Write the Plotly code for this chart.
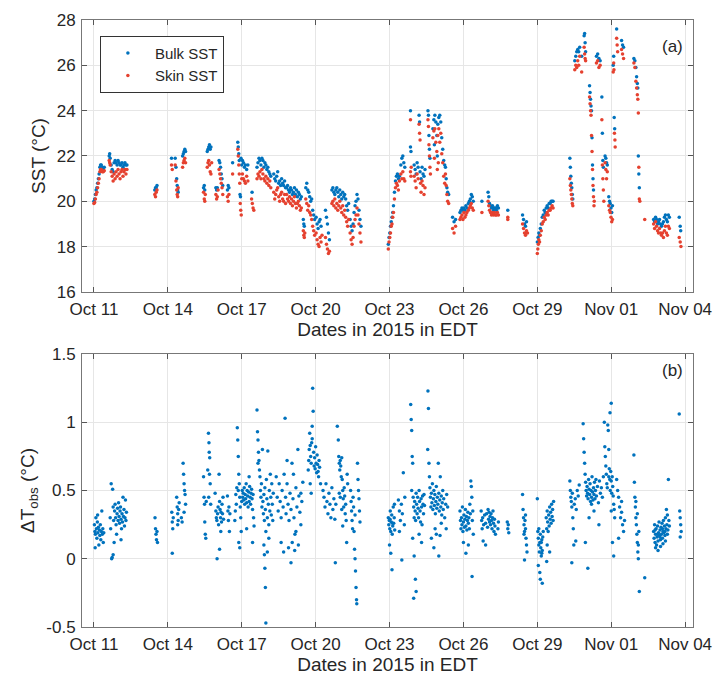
import pandas as pd
import plotly.graph_objects as go

# ---------------- data (day offsets from 2015-10-11 00:00 EDT, values) -------------
bulk_points = [
    (0.00,20.0),(0.03,20.1),(0.06,20.3),(0.09,20.5),(0.12,20.6),(0.15,20.8),(0.18,21.0),(0.21,21.2),(0.24,21.5),(0.27,21.6),(0.30,21.6),(0.34,21.5),(0.38,21.4),(0.42,21.5),
    (0.62,22.0),(0.64,22.1),(0.66,21.9),(0.70,21.6),(0.74,21.4),(0.78,21.3),(0.82,21.7),(0.86,21.8),(0.90,21.7),(0.94,21.6),(0.98,21.8),(1.02,21.7),(1.06,21.6),(1.10,21.6),(1.14,21.7),(1.18,21.5),(1.22,21.6),(1.26,21.7),(1.30,21.6),(1.34,21.6),
    (2.47,20.5),(2.50,20.6),(2.53,20.6),(2.56,20.7),
    (3.15,21.9),(3.30,21.9),(3.33,21.5),(3.36,21.0),(3.38,20.7),(3.40,20.5),(3.42,20.4),(3.60,22.0),(3.63,22.1),(3.66,22.2),(3.69,22.3),(3.72,22.2),
    (4.45,20.6),(4.48,20.7),(4.50,20.5),(4.60,22.2),(4.63,22.3),(4.66,22.4),(4.69,22.5),(4.72,22.3),(4.75,22.4),
    (4.95,20.6),(4.98,20.5),(5.01,20.6),(5.08,21.8),(5.11,21.7),(5.14,21.5),(5.17,21.2),(5.20,21.0),(5.23,20.7),
    (5.42,20.5),(5.45,20.7),(5.48,20.6),(5.63,21.7),
    (5.84,22.6),(5.86,22.4),(5.88,22.1),(5.90,21.8),(5.93,20.3),(5.95,20.2),(5.97,21.9),(6.00,21.6),
    (6.03,21.8),(6.07,21.7),(6.11,21.5),(6.15,21.6),(6.20,21.4),(6.25,21.6),(6.42,20.4),
    (6.62,21.5),(6.66,21.7),(6.70,21.9),(6.74,21.8),(6.78,21.6),(6.82,21.9),(6.86,21.8),(6.90,21.5),(6.94,21.7),(6.98,21.6),(7.02,21.4),(7.06,21.5),(7.10,21.3),(7.14,21.2),(7.18,21.1),
    (7.30,21.2),(7.34,21.0),(7.38,20.9),(7.42,21.1),(7.46,21.3),(7.50,20.8),(7.54,20.9),(7.58,20.7),(7.62,21.0),(7.66,20.8),(7.70,20.7),(7.74,20.9),(7.78,20.6),
    (7.82,20.6),(7.86,20.7),(7.90,20.5),(7.94,20.4),(7.98,20.6),(8.02,20.5),(8.06,20.3),(8.10,20.4),(8.14,20.6),(8.18,20.3),(8.22,20.5),(8.26,20.2),(8.30,20.4),(8.34,20.3),(8.38,20.1),(8.42,20.2),
    (8.50,19.2),(8.52,19.0),(8.54,18.9),(8.60,20.6),(8.64,20.8),(8.68,20.5),(8.72,20.4),(8.76,20.2),(8.80,20.0),(8.84,20.1),(8.88,19.6),(8.92,19.4),(8.96,19.2),
    (9.02,19.3),(9.06,19.0),(9.10,18.8),(9.14,19.1),(9.18,19.2),(9.22,18.9),
    (9.40,19.6),(9.44,19.3),(9.48,19.0),(9.52,18.6),(9.56,18.3),
    (9.66,20.5),(9.70,20.6),(9.74,20.4),(9.78,20.3),(9.82,20.5),(9.86,20.6),(9.90,20.4),(9.94,20.2),(9.98,20.5),(10.02,20.3),(10.06,20.1),(10.10,20.4),(10.14,20.2),(10.18,20.3),(10.22,20.1),(10.26,19.8),(10.30,19.6),(10.34,19.9),
    (10.40,19.2),(10.44,18.9),(10.48,18.7),(10.52,19.0),(10.56,19.5),(10.60,19.8),(10.64,20.0),(10.68,20.3),(10.72,20.1),(10.76,19.6),(10.80,19.2),(10.84,18.9),
    (11.95,18.1),(11.98,18.4),(12.01,18.6),(12.04,18.9),(12.07,19.1),(12.10,19.3),(12.13,19.5),(12.16,19.8),(12.20,20.4),(12.24,20.9),(12.28,21.1),(12.32,21.2),(12.36,21.0),(12.40,21.1),(12.46,21.6),(12.50,21.9),(12.54,22.0),(12.58,21.7),(12.62,21.5),
    (12.85,24.0),(12.85,22.4),(12.87,22.2),
    (13.00,21.6),(13.04,21.4),(13.08,21.2),(13.12,21.7),(13.16,21.5),(13.20,23.8),(13.22,23.5),(13.24,21.3),(13.28,21.0),(13.32,21.5),(13.36,21.2),(13.40,21.1),(13.44,21.4),
    (13.56,24.0),(13.58,23.8),(13.60,22.9),(13.62,22.3),(13.64,21.9),
    (13.76,23.2),(13.80,23.6),(13.84,23.8),(13.88,23.5),(13.92,22.9),(13.96,23.4),(14.00,23.7),(14.04,23.8),(14.08,23.5),(14.12,22.8),(14.16,22.3),(14.20,21.8),(14.24,21.6),(13.82,22.5),(13.94,22.0),
    (14.27,21.5),(14.30,21.0),(14.33,20.6),(14.36,20.4),(14.40,20.3),
    (14.56,19.3),(14.62,19.1),(14.68,19.2),
    (14.86,19.5),(14.90,19.6),(14.94,19.7),(14.98,19.6),(15.02,19.7),(15.06,19.6),(15.10,19.8),(15.14,19.7),(15.20,19.9),(15.24,20.0),(15.28,20.1),(15.32,20.3),(15.36,20.2),(15.40,20.0),
    (15.75,20.0),
    (16.00,20.4),(16.03,20.2),(16.06,19.9),(16.10,19.8),(16.14,19.7),(16.18,19.8),(16.22,19.6),(16.26,19.7),(16.30,19.7),(16.34,19.6),(16.38,19.8),(16.42,19.7),
    (16.80,19.6),
    (17.40,19.4),(17.44,19.2),(17.48,19.0),(17.52,18.9),(17.56,19.1),
    (18.00,18.2),(18.03,18.4),(18.06,18.6),(18.09,18.5),(18.12,18.8),(18.16,19.0),(18.20,19.3),(18.24,19.4),(18.28,19.6),(18.32,19.5),(18.36,19.7),(18.40,19.8),(18.44,19.7),(18.48,19.9),(18.52,19.9),(18.56,20.0),(18.60,20.0),(18.64,20.0),
    (19.32,21.9),(19.34,21.5),(19.36,21.1),(19.38,20.8),(19.40,20.6),(19.42,20.3),(19.44,20.1),
    (19.52,26.2),(19.56,26.4),(19.60,26.6),(19.64,26.7),(19.68,26.6),(19.72,26.8),(19.80,26.4),(19.90,27.3),(19.92,27.4),(19.94,27.0),(19.96,26.6),
    (20.12,25.1),(20.14,24.8),(20.16,24.5),(20.18,24.2),(20.20,24.0),(20.22,22.8),(20.24,21.6),(20.26,21.0),(20.28,20.5),
    (20.40,26.4),(20.45,26.5),(20.50,26.3),(20.55,26.2),(20.62,24.6),(20.64,23.0),(20.66,21.8),(20.68,21.5),
    (20.75,22.0),(20.78,21.9),(20.81,21.7),(20.84,21.6),
    (20.90,20.2),(20.93,20.0),(20.96,19.9),(20.99,19.7),(21.02,19.5),(21.05,19.8),
    (21.08,26.0),(21.10,26.4),(21.12,23.7),(21.14,23.2),
    (21.22,27.6),(21.42,27.1),(21.46,26.9),(21.50,26.8),
    (21.92,26.3),(21.96,26.2),(22.00,25.9),(22.03,25.5),(22.06,25.2),(22.08,25.0),(22.10,22.0),(22.12,21.2),(22.14,20.6),
    (22.72,19.2),(22.76,19.1),(22.80,19.3),(22.84,19.2),(22.88,19.0),(22.92,19.1),(22.96,19.2),(23.00,19.0),(23.04,18.9),(23.08,19.0),(23.12,19.1),(23.16,19.3),(23.20,19.4),(23.24,19.2),(23.28,19.1),(23.32,19.4),(23.36,19.3),
    (23.76,19.3),(23.80,18.9),(23.82,18.7),
]

skin_points = [
    (0.00,19.9),(0.03,19.95),(0.06,20.1),(0.09,20.3),(0.12,20.4),(0.15,20.6),(0.18,20.8),(0.21,21.0),(0.24,21.3),(0.27,21.4),(0.30,21.4),(0.34,21.3),(0.38,21.3),(0.42,21.35),
    (0.62,21.8),(0.64,21.7),(0.66,21.6),(0.70,21.3),(0.74,21.1),(0.78,20.9),(0.82,21.2),(0.86,21.0),(0.90,21.3),(0.94,21.1),(0.98,21.4),(1.02,21.2),(1.06,21.0),(1.10,21.3),(1.14,21.4),(1.18,21.1),(1.22,21.3),(1.26,21.4),(1.30,21.2),(1.34,21.4),
    (2.47,20.3),(2.50,20.2),(2.53,20.4),(2.56,20.5),
    (3.15,21.6),(3.18,21.4),(3.30,21.6),(3.33,20.9),(3.36,20.5),(3.38,20.3),(3.40,20.2),(3.42,20.6),(3.60,21.5),(3.63,21.7),(3.66,21.8),(3.69,21.9),(3.72,21.7),
    (4.45,20.4),(4.48,20.1),(4.50,20.0),(4.52,20.3),(4.60,21.5),(4.63,21.7),(4.66,21.8),(4.69,21.6),(4.72,21.3),(4.75,21.2),(4.78,21.7),
    (4.95,20.3),(4.98,20.1),(5.01,20.2),(5.04,20.5),(5.08,21.4),(5.11,21.2),(5.14,21.0),(5.17,20.8),(5.20,20.6),(5.23,20.3),
    (5.42,20.2),(5.45,20.0),(5.48,20.3),(5.63,21.2),
    (5.84,22.3),(5.86,22.0),(5.88,21.6),(5.90,21.2),(5.92,20.8),(5.94,19.9),(5.96,19.6),(5.98,19.4),(6.00,21.0),
    (6.03,21.2),(6.07,21.0),(6.11,20.9),(6.15,20.8),(6.20,21.1),(6.25,20.9),(6.40,20.1),(6.43,19.9),(6.46,19.7),(6.49,19.6),
    (6.62,21.0),(6.66,21.2),(6.70,21.1),(6.74,21.3),(6.78,21.0),(6.82,21.4),(6.86,21.2),(6.90,21.0),(6.94,20.9),(6.98,21.1),(7.02,20.8),(7.06,21.0),(7.10,20.7),(7.14,20.9),(7.18,20.6),
    (7.30,20.4),(7.34,20.1),(7.38,20.3),(7.42,20.5),(7.46,20.6),(7.50,20.2),(7.54,20.0),(7.58,20.3),(7.62,20.4),(7.66,20.1),(7.70,20.0),(7.74,20.3),(7.78,19.9),
    (7.82,20.3),(7.86,20.1),(7.90,20.0),(7.94,20.2),(7.98,19.9),(8.02,20.1),(8.06,19.8),(8.10,20.0),(8.14,20.2),(8.18,19.9),(8.22,19.7),(8.26,19.9),(8.30,20.0),(8.34,19.8),(8.38,19.6),(8.42,19.7),
    (8.50,18.7),(8.52,18.5),(8.54,18.4),(8.56,18.6),(8.60,20.1),(8.64,19.9),(8.68,19.6),(8.72,19.8),(8.76,19.5),(8.80,19.4),(8.84,19.2),(8.88,18.9),(8.92,18.7),(8.96,18.5),
    (9.02,18.6),(9.06,18.3),(9.10,18.1),(9.14,18.0),(9.18,18.4),(9.22,18.2),(9.26,18.5),
    (9.40,18.4),(9.44,18.1),(9.48,17.9),(9.52,17.7),(9.56,17.8),
    (9.66,19.9),(9.70,20.0),(9.74,19.8),(9.78,20.1),(9.82,19.7),(9.86,19.9),(9.90,19.6),(9.94,19.8),(9.98,20.0),(10.02,19.7),(10.06,19.5),(10.10,19.8),(10.14,19.4),(10.18,19.6),(10.22,19.3),(10.26,19.1),(10.30,18.9),(10.34,19.2),
    (10.40,18.6),(10.44,18.3),(10.48,18.1),(10.52,18.4),(10.56,18.9),(10.60,19.2),(10.64,19.4),(10.68,19.7),(10.72,19.4),(10.76,19.0),(10.80,18.6),(10.84,18.2),
    (11.95,17.9),(11.98,18.2),(12.01,18.4),(12.04,18.6),(12.07,18.9),(12.10,19.0),(12.13,19.3),(12.16,19.5),(12.20,20.1),(12.24,20.6),(12.28,20.8),(12.32,20.7),(12.36,20.5),(12.40,20.9),(12.46,21.2),(12.50,21.0),(12.54,21.3),(12.58,21.0),(12.62,20.9),
    (12.85,23.6),(12.85,21.3),(12.87,21.1),(12.88,21.5),
    (13.00,21.1),(13.04,20.9),(13.08,20.6),(13.12,21.2),(13.16,21.0),(13.20,23.4),(13.22,23.0),(13.24,22.7),(13.26,20.8),(13.28,20.4),(13.32,20.9),(13.36,20.7),(13.40,20.3),(13.44,20.6),
    (13.56,23.6),(13.58,23.3),(13.60,22.5),(13.62,22.0),(13.64,21.5),(13.66,21.2),
    (13.76,22.8),(13.80,23.1),(13.84,23.2),(13.88,22.6),(13.92,22.2),(13.96,22.9),(14.00,23.2),(14.04,22.6),(14.08,23.0),(14.12,22.1),(14.16,21.7),(14.20,21.1),(14.24,20.8),(13.82,21.9),(13.94,21.4),(13.98,21.7),
    (14.27,21.2),(14.30,20.7),(14.33,20.3),(14.36,20.0),(14.40,19.9),
    (14.56,18.8),(14.62,18.6),(14.68,18.9),
    (14.86,19.2),(14.90,19.3),(14.94,19.4),(14.98,19.2),(15.02,19.5),(15.06,19.3),(15.10,19.4),(15.14,19.5),(15.20,19.6),(15.24,19.7),(15.28,19.8),(15.32,19.9),(15.36,19.7),(15.40,19.6),
    (15.75,19.5),
    (16.00,20.0),(16.03,19.8),(16.06,19.6),(16.10,19.5),(16.14,19.4),(16.18,19.5),(16.22,19.4),(16.26,19.5),(16.30,19.4),(16.34,19.4),(16.38,19.5),(16.42,19.4),
    (16.80,19.3),(16.80,19.2),
    (17.40,19.0),(17.44,18.8),(17.48,18.6),(17.52,18.5),(17.56,18.7),(17.60,18.6),
    (18.00,17.7),(18.02,17.9),(18.04,18.1),(18.06,18.3),(18.09,18.2),(18.12,18.5),(18.16,18.7),(18.20,19.0),(18.24,19.1),(18.28,19.3),(18.32,19.2),(18.36,19.4),(18.40,19.5),(18.44,19.4),(18.48,19.6),(18.52,19.6),(18.56,19.7),(18.60,19.8),(18.64,19.7),
    (19.32,21.0),(19.34,20.7),(19.36,20.5),(19.38,20.3),(19.40,20.1),(19.42,19.9),(19.44,19.8),
    (19.52,25.8),(19.56,26.0),(19.60,25.9),(19.64,26.2),(19.68,26.0),(19.72,26.4),(19.80,25.7),(19.90,26.8),(19.92,26.5),(19.94,26.3),(19.96,26.2),
    (20.12,24.6),(20.14,24.3),(20.16,24.0),(20.18,23.8),(20.20,22.9),(20.22,22.2),(20.24,21.4),(20.26,20.7),(20.28,20.2),(20.30,19.8),(20.31,20.0),
    (20.40,26.1),(20.45,26.2),(20.50,25.9),(20.55,26.0),(20.62,23.6),(20.64,21.6),(20.66,21.0),(20.68,20.5),(20.70,20.0),
    (20.75,21.7),(20.78,21.4),(20.81,21.0),(20.84,21.3),
    (20.90,19.8),(20.93,19.6),(20.96,19.5),(20.99,19.3),(21.02,19.1),(21.05,19.2),
    (21.08,25.7),(21.10,26.1),(21.11,25.8),(21.13,23.0),(21.15,22.7),(21.16,22.4),
    (21.22,27.2),(21.24,26.9),(21.26,26.6),(21.42,26.7),(21.46,26.5),(21.50,26.3),
    (21.92,26.1),(21.96,25.9),(22.00,25.3),(22.03,25.0),(22.06,24.7),(22.08,24.5),(22.10,23.9),(22.12,21.5),(22.14,20.1),(22.16,20.0),
    (22.36,19.2),
    (22.72,19.0),(22.76,18.8),(22.80,19.1),(22.84,18.9),(22.88,18.7),(22.92,18.6),(22.96,18.8),(23.00,18.6),(23.04,18.5),(23.08,18.6),(23.12,18.4),(23.16,18.7),(23.20,18.9),(23.24,18.6),(23.28,18.5),(23.32,18.9),(23.36,18.8),
    (23.76,18.4),(23.80,18.2),(23.83,18.0),
]

dT_points = [
    (0.02,0.25),(0.04,0.20),(0.06,0.18),(0.08,0.30),(0.10,0.22),(0.12,0.15),(0.14,0.27),(0.16,0.19),(0.18,0.23),(0.20,0.10),(0.22,0.21),(0.24,0.17),(0.26,0.25),(0.28,0.14),(0.30,0.20),(0.32,0.35),(0.34,0.18),(0.36,0.22),(0.38,0.12),(0.40,0.19),(0.05,0.08),(0.15,0.32),
    (0.66,0.30),(0.68,0.22),(0.70,0.55),(0.72,0.00),(0.74,0.01),(0.76,0.51),(0.78,0.38),(0.80,0.28),(0.82,0.12),(0.84,0.35),(0.86,0.40),(0.88,0.30),(0.90,0.25),(0.92,0.18),(0.94,0.33),(0.96,0.37),(0.98,0.28),(1.00,0.41),(1.02,0.31),(1.04,0.26),(1.06,0.35),(1.08,0.38),(1.10,0.29),(1.12,0.22),(1.14,0.33),(1.16,0.27),(1.18,0.45),(1.20,0.31),(1.22,0.36),(1.24,0.24),(1.26,0.30),(1.28,0.43),(1.30,0.28),(1.32,0.34),(0.78,0.03),(1.10,0.14),
    (2.48,0.30),(2.50,0.22),(2.52,0.18),(2.54,0.14),(2.56,0.20),(2.58,0.12),
    (3.16,0.34),(3.18,0.27),(3.20,0.22),(3.22,0.30),(3.18,0.04),(3.36,0.45),(3.38,0.38),(3.40,0.33),(3.42,0.28),(3.44,0.36),(3.46,0.41),(3.40,0.25),(3.62,0.70),(3.64,0.62),(3.66,0.55),(3.68,0.50),(3.70,0.47),(3.72,0.40),(3.66,0.34),(3.58,0.27),(3.55,0.30),
    (4.45,0.60),(4.47,0.45),(4.49,0.40),(4.50,0.27),(4.52,0.18),(4.54,0.15),(4.56,0.42),(4.65,0.92),(4.67,0.85),(4.68,0.78),(4.70,0.74),(4.69,0.62),(4.72,0.55),(4.66,0.45),(4.74,0.40),(4.62,0.65),
    (4.92,0.48),(4.95,0.35),(4.97,0.30),(4.99,0.28),(5.00,0.00),(5.02,0.33),(5.04,0.38),(5.06,0.25),(5.08,0.62),(5.10,0.42),(5.12,0.36),(5.14,0.30),(5.16,0.34),(5.18,0.27),(5.20,0.40),(5.22,0.33),(5.24,0.45),(5.10,0.07),(5.15,0.20),(5.26,0.29),
    (5.42,0.46),(5.44,0.35),(5.46,0.28),(5.48,0.38),(5.50,0.20),(5.52,0.33),
    (5.72,0.28),(5.74,0.35),(5.76,0.47),(5.78,0.40),(5.80,0.52),(5.82,0.96),(5.84,0.87),(5.86,0.75),(5.88,0.62),(5.90,0.55),(5.92,0.45),(5.94,0.38),(5.96,0.30),(5.98,0.20),(5.88,0.12),(5.92,0.08),(5.86,0.50),(6.00,0.42),
    (6.02,0.50),(6.04,0.45),(6.06,0.48),(6.08,0.43),(6.10,0.52),(6.12,0.40),(6.14,0.47),(6.16,0.44),(6.18,0.55),(6.20,0.41),(6.22,0.50),(6.24,0.46),(6.26,0.38),(6.28,0.49),(6.30,0.42),(6.32,0.53),(6.34,0.45),(6.36,0.40),(6.38,0.48),(6.40,0.51),(6.42,0.44),(6.44,0.36),(6.46,0.47),(6.48,0.30),(6.50,0.24),(6.44,0.12),(6.30,0.60),(6.20,0.22),
    (6.62,1.09),(6.64,0.93),(6.66,0.87),(6.68,0.78),(6.70,0.72),(6.72,0.65),(6.66,0.70),(6.74,0.60),(6.76,0.50),(6.78,0.45),(6.80,0.55),(6.82,0.38),(6.84,0.80),(6.86,0.42),(6.88,0.33),(6.90,0.47),(6.92,0.28),(6.94,0.52),(6.96,0.36),(6.98,0.20),(7.00,0.58),(7.02,0.44),(7.04,0.30),(7.06,0.79),(7.08,0.40),(7.10,0.25),(7.12,0.50),(7.14,0.35),(7.16,0.62),(7.18,0.45),(7.20,0.32),(7.22,0.55),(7.24,0.40),(7.26,0.28),(7.28,0.48),(6.90,0.10),(6.92,0.03),(6.94,-0.07),(6.96,-0.21),(6.98,-0.47),(7.04,0.05),(7.10,0.15),
    (7.40,0.60),(7.44,0.45),(7.48,0.35),(7.52,0.55),(7.56,0.42),(7.60,0.30),(7.64,0.50),(7.68,0.38),(7.72,0.62),(7.76,1.03),(7.78,0.45),(7.80,0.33),(7.84,0.55),(7.88,0.40),(7.92,0.28),(7.96,0.48),(8.00,0.36),(8.04,0.70),(8.08,0.44),(8.12,0.30),(8.16,0.18),(8.20,0.52),(8.24,0.38),(8.28,0.80),(8.32,0.46),(8.36,0.34),(8.40,0.25),(8.44,0.42),(8.48,0.56),(7.70,0.05),(7.90,0.08),(8.00,-0.03),(8.05,0.12),(8.15,0.06),(8.30,0.10),(7.60,0.12),(8.20,0.20),(8.10,0.62),(7.84,0.72),(8.40,0.48),
    (8.70,0.65),(8.72,0.72),(8.74,0.80),(8.76,0.92),(8.78,0.83),(8.80,0.75),(8.82,0.70),(8.84,0.85),(8.86,0.97),(8.88,1.25),(8.90,1.08),(8.92,0.78),(8.94,0.68),(8.96,0.74),(8.98,0.66),(9.00,0.82),(9.02,0.70),(9.04,0.63),(9.06,0.76),(9.08,0.69),(9.10,0.64),(9.12,0.60),(9.14,0.72),(9.16,0.67),(8.78,0.55),(8.82,0.48),(9.20,0.55),(8.86,0.88),
    (9.30,0.50),(9.34,0.45),(9.38,0.38),(9.42,0.55),(9.46,0.42),(9.50,0.33),(9.54,0.48),(9.58,0.40),(9.62,0.30),(9.66,0.52),(9.70,0.36),(9.74,0.44),(9.78,0.29),(9.80,-0.03),(9.82,0.40),
    (9.88,0.97),(9.92,0.87),(9.94,0.75),(9.96,0.70),(9.98,0.65),(10.00,0.72),(10.02,0.68),(10.04,0.60),(10.06,0.74),(10.08,0.58),(10.10,0.50),(10.12,0.44),(10.14,0.38),(10.16,0.52),(10.18,0.46),(10.20,0.33),(10.22,0.40),(10.24,0.28),(10.26,0.12),(10.28,0.62),(10.30,0.55),(10.00,0.45),(9.96,0.48),(10.06,0.36),(10.10,0.24),
    (10.42,0.50),(10.44,0.42),(10.46,0.35),(10.48,0.28),(10.50,0.22),(10.52,0.45),(10.54,0.38),(10.56,0.20),(10.58,0.07),(10.60,0.00),(10.62,-0.09),(10.64,-0.21),(10.66,-0.30),(10.67,-0.33),(10.70,0.70),(10.72,0.58),(10.74,0.50),(10.76,0.44),(10.78,0.35),(10.80,0.27),(10.60,0.32),
    (11.95,0.30),(11.97,0.25),(11.99,0.28),(12.01,0.22),(12.03,0.35),(12.05,0.20),(12.07,0.27),(12.09,0.32),(12.11,0.18),(12.13,0.24),(12.15,0.38),(12.17,0.26),(12.19,0.30),(12.21,0.21),(12.00,0.10),(12.05,0.04),(12.10,-0.08),(12.20,0.40),(12.02,0.29),(12.12,0.26),
    (12.36,0.43),(12.40,0.35),(12.44,0.28),(12.48,0.40),(12.52,0.33),(12.56,0.63),(12.60,0.25),(12.62,0.45),(12.50,-0.01),(12.40,0.20),
    (12.86,1.13),(12.88,1.02),(12.90,0.94),(12.92,0.75),(12.94,0.70),(12.90,0.50),(12.96,0.45),(12.98,0.38),(13.00,0.30),(13.02,0.42),(13.04,0.35),(13.06,0.28),(13.08,0.48),(13.10,0.40),(13.12,0.33),(13.14,0.45),(13.16,0.37),(13.18,0.30),(13.20,0.50),(13.22,0.42),(13.24,0.35),(13.26,0.27),(13.28,0.44),(13.30,0.38),(13.32,0.25),(13.34,0.46),(13.36,0.40),(13.38,0.33),(13.40,0.47),(13.42,0.39),(12.94,0.15),(13.00,0.02),(13.05,-0.15),(13.08,-0.24),(12.98,-0.29),(13.20,0.18),(13.30,0.12),
    (13.56,1.23),(13.58,1.10),(13.55,0.80),(13.60,0.70),(13.62,0.60),(13.64,0.52),(13.66,0.45),(13.68,0.38),(13.70,0.48),(13.72,0.41),(13.74,0.55),(13.76,0.36),(13.78,0.44),(13.80,0.50),(13.82,0.39),(13.84,0.47),(13.86,0.33),(13.88,0.42),(13.90,0.53),(13.92,0.37),(13.94,0.45),(13.96,0.40),(13.98,0.70),(14.00,0.48),(14.02,0.35),(14.04,0.43),(14.06,0.60),(14.08,0.38),(14.10,0.46),(14.12,0.32),(14.14,0.41),(14.16,0.50),(14.18,0.36),(14.20,0.44),(14.24,0.30),(14.28,0.40),(14.32,0.47),(14.36,0.38),(13.70,0.15),(13.80,0.08),(13.90,0.18),(14.00,0.02),(13.85,0.22),(14.10,0.26),(14.30,0.22),(14.05,0.17),
    (14.86,0.35),(14.88,0.28),(14.90,0.22),(14.92,0.30),(14.94,0.25),(14.96,0.38),(14.98,0.20),(15.00,0.27),(15.02,0.32),(15.04,0.23),(15.06,0.29),(15.08,0.36),(15.10,0.24),(15.12,0.31),(15.14,0.21),(15.16,0.28),(15.18,0.34),(15.20,0.26),(15.22,0.30),(15.24,0.22),(15.26,0.40),(15.28,0.33),(15.30,0.57),(15.32,0.53),(15.34,0.45),(15.36,0.28),(15.38,0.35),(15.00,0.12),(15.10,0.04),(15.20,0.10),(15.35,-0.13),(15.40,0.18),
    (15.72,0.35),(15.74,0.28),(15.76,0.22),(15.78,0.30),(15.82,0.25),(15.86,0.32),(15.90,0.26),(15.94,0.33),(15.98,0.23),(16.00,0.36),(16.02,0.29),(16.04,0.34),(16.06,0.27),(16.08,0.31),(16.10,0.25),(16.12,0.33),(16.14,0.28),(16.16,0.22),(16.18,0.30),(16.20,0.35),(16.22,0.26),(16.24,0.20),(16.26,0.29),(16.28,0.24),(16.30,0.18),(15.80,0.13),(15.90,0.10),(16.40,0.22),(16.42,0.27),
    (16.78,0.27),(16.80,0.22),(16.82,0.25),(16.84,0.19),
    (17.40,0.47),(17.42,0.36),(17.44,0.30),(17.46,0.25),(17.48,0.20),(17.50,0.28),(17.52,0.22),(17.54,0.15),(17.56,0.10),(17.58,0.05),(17.48,-0.01),(17.46,0.18),(17.52,0.32),
    (18.00,0.44),(18.02,0.20),(18.04,0.15),(18.06,0.10),(18.08,0.05),(18.10,0.12),(18.12,0.18),(18.14,0.08),(18.16,0.02),(18.18,0.14),(18.20,0.06),(18.22,0.16),(18.04,-0.05),(18.10,-0.10),(18.12,-0.15),(18.20,-0.18),(18.24,0.20),(18.06,0.22),(18.16,0.12),(18.18,0.04),
    (18.36,0.30),(18.38,0.22),(18.40,0.35),(18.42,0.27),(18.44,0.20),(18.46,0.32),(18.48,0.24),(18.50,0.38),(18.52,0.29),(18.54,0.34),(18.56,0.26),(18.58,0.40),(18.60,0.31),(18.62,0.36),(18.64,0.28),(18.66,0.42),(18.40,0.10),(18.50,0.05),(18.38,-0.02),
    (19.32,0.57),(19.34,0.50),(19.36,0.45),(19.38,0.42),(19.40,0.38),(19.42,0.48),(19.44,0.30),(19.46,0.22),(19.50,0.40),(19.54,0.44),(19.58,0.36),(19.62,0.50),(19.66,0.46),(19.70,0.54),(19.48,0.10),(19.40,-0.03),(19.56,0.13),
    (19.86,0.99),(19.88,0.88),(19.90,0.78),(19.92,0.70),(19.94,0.62),(19.96,0.56),(19.98,0.50),(20.00,0.46),(20.02,0.53),(20.04,0.48),(20.06,0.44),(20.08,0.58),(20.10,0.51),(20.12,0.47),(20.14,0.55),(20.16,0.42),(20.18,0.50),(20.20,0.45),(20.22,0.60),(20.24,0.49),(20.26,0.43),(20.28,0.52),(20.30,0.47),(20.32,0.56),(20.34,0.44),(20.36,0.50),(20.38,0.58),(20.40,0.46),(20.44,0.53),(20.48,0.41),(20.52,0.57),(20.56,0.48),(20.60,0.52),(20.64,0.45),(20.68,0.60),(19.95,0.12),(20.05,-0.07),(20.10,0.30),(20.30,0.35),(20.50,0.25),(20.20,0.40),
    (20.72,1.00),(20.74,0.82),(20.76,0.75),(20.78,0.68),(20.80,0.62),(20.82,0.55),(20.84,0.52),(20.86,0.98),(20.88,0.94),(20.90,0.80),(20.92,0.66),(20.94,0.58),(20.96,0.50),(20.98,0.64),(21.00,0.57),(21.02,0.48),(21.04,0.60),(21.06,0.53),(21.08,0.46),(21.10,0.40),(21.12,0.36),(21.14,0.30),(21.00,1.14),(20.95,1.07),(20.90,0.60),(21.05,0.12),(21.10,0.02),(21.00,0.35),
    (21.22,0.58),(21.26,0.50),(21.30,0.45),(21.34,0.38),(21.38,0.30),(21.42,0.34),(21.46,0.25),(21.50,0.20),(21.54,0.28),(21.30,0.15),(21.42,0.42),
    (21.92,0.76),(21.94,0.56),(21.96,0.45),(21.98,0.38),(22.00,0.30),(22.02,0.25),(22.04,0.18),(22.06,0.12),(22.08,0.05),(22.10,0.00),(22.12,0.20),(22.14,-0.24),(22.00,0.42),(22.06,0.33),(22.10,0.10),
    (22.36,-0.14),
    (22.72,0.20),(22.74,0.15),(22.76,0.25),(22.78,0.12),(22.80,0.18),(22.82,0.22),(22.84,0.10),(22.86,0.16),(22.88,0.24),(22.90,0.13),(22.92,0.19),(22.94,0.27),(22.96,0.17),(22.98,0.21),(23.00,0.14),(23.02,0.23),(23.04,0.18),(23.06,0.26),(23.08,0.15),(23.10,0.20),(23.12,0.28),(23.14,0.19),(23.16,0.24),(23.18,0.17),(23.20,0.30),(23.22,0.22),(23.24,0.36),(23.26,0.25),(23.28,0.32),(23.30,0.21),(23.32,0.58),(23.34,0.28),(23.36,0.24),(22.80,0.08),(22.90,0.06),(23.00,0.09),(23.10,0.11),(23.20,0.13),(22.78,0.21),(22.88,0.18),(22.98,0.16),(23.08,0.22),(23.18,0.20),(23.28,0.18),
    (23.76,1.06),(23.78,0.35),(23.80,0.30),(23.82,0.25),(23.84,0.20),(23.80,0.16),
]

sst_ticks = [16, 18, 20, 22, 24, 26, 28]
dt_ticks = [-0.5, 0, 0.5, 1, 1.5]
dt_ticktext = ["-0.5", "0", "0.5", "1", "1.5"]

# ---------------- build ----------------
base = pd.Timestamp("2015-10-11 00:00")
def to_dates(points):
    days = [p[0] for p in points]
    vals = [p[1] for p in points]
    return base + pd.to_timedelta(days, unit="D"), vals

bx, by = to_dates(bulk_points)
sx, sy = to_dates(skin_points)
dx, dy = to_dates(dT_points)

BLUE = "#0072BD"
RED = "#E5412F"
FONT = "Liberation Sans, Arial, Helvetica, sans-serif"
TXT = "#262626"

fig = go.Figure()
fig.add_trace(go.Scatter(x=bx, y=by, mode="markers", name="Bulk SST",
                         marker=dict(color=BLUE, size=3.5), xaxis="x", yaxis="y"))
fig.add_trace(go.Scatter(x=sx, y=sy, mode="markers", name="Skin SST",
                         marker=dict(color=RED, size=3.5), xaxis="x", yaxis="y"))
fig.add_trace(go.Scatter(x=dx, y=dy, mode="markers", name="dT", showlegend=False,
                         marker=dict(color=BLUE, size=3.5), xaxis="x2", yaxis="y2"))

xrange = ["2015-10-10 12:23", "2015-11-04 07:40"]
common_x = dict(type="date", range=xrange, tick0="2015-10-11", dtick=3 * 86400000,
                tickformat="%b %d", ticks="inside", ticklen=5, tickcolor="#555",
                showline=True, linecolor="#777", linewidth=1, mirror="ticks",
                showgrid=True, gridcolor="#e6e6e6", gridwidth=1, zeroline=False,
                tickfont=dict(size=17, color=TXT), ticklabelstandoff=2,
                title=dict(text="Dates in 2015 in EDT", font=dict(size=19, color=TXT), standoff=2))
common_y = dict(ticks="inside", ticklen=5, tickcolor="#555",
                showline=True, linecolor="#777", linewidth=1, mirror="ticks",
                showgrid=True, gridcolor="#e6e6e6", gridwidth=1, zeroline=False,
                tickfont=dict(size=17, color=TXT), ticklabelstandoff=2)

fig.update_layout(
    width=723, height=682,
    margin=dict(l=82, r=26, t=11, b=55),
    paper_bgcolor="white", plot_bgcolor="white",
    font=dict(family=FONT, color=TXT),
    xaxis=dict(common_x, domain=[0, 1], anchor="y"),
    yaxis=dict(common_y, domain=[0.552, 1], anchor="x", range=[16, 28], tickvals=sst_ticks,
               title=dict(text="SST (°C)", font=dict(size=19, color=TXT), standoff=6)),
    xaxis2=dict(common_x, domain=[0, 1], anchor="y2"),
    yaxis2=dict(common_y, domain=[0, 0.4497], anchor="x2", range=[-0.5, 1.5],
                tickvals=dt_ticks, ticktext=dt_ticktext,
                title=dict(text="ΔT<sub>obs</sub> (°C)", font=dict(size=19, color=TXT), standoff=6)),
    legend=dict(x=(100 - 82) / 615, y=(627 - 27) / 616, xanchor="left", yanchor="top",
                bgcolor="white", bordercolor="#333", borderwidth=1,
                font=dict(size=15, color=TXT), itemsizing="trace", itemwidth=44,
                tracegroupgap=0),
    showlegend=True,
    annotations=[
        dict(text="(a)", xref="paper", yref="paper", x=(689 - 82) / 615, y=(627 - 38) / 616,
             xanchor="right", yanchor="middle", showarrow=False, font=dict(size=17, color=TXT)),
        dict(text="(b)", xref="paper", yref="paper", x=(689 - 82) / 615, y=(627 - 367) / 616,
             xanchor="right", yanchor="middle", showarrow=False, font=dict(size=17, color=TXT)),
    ],
)

fig.write_html("out.html")
